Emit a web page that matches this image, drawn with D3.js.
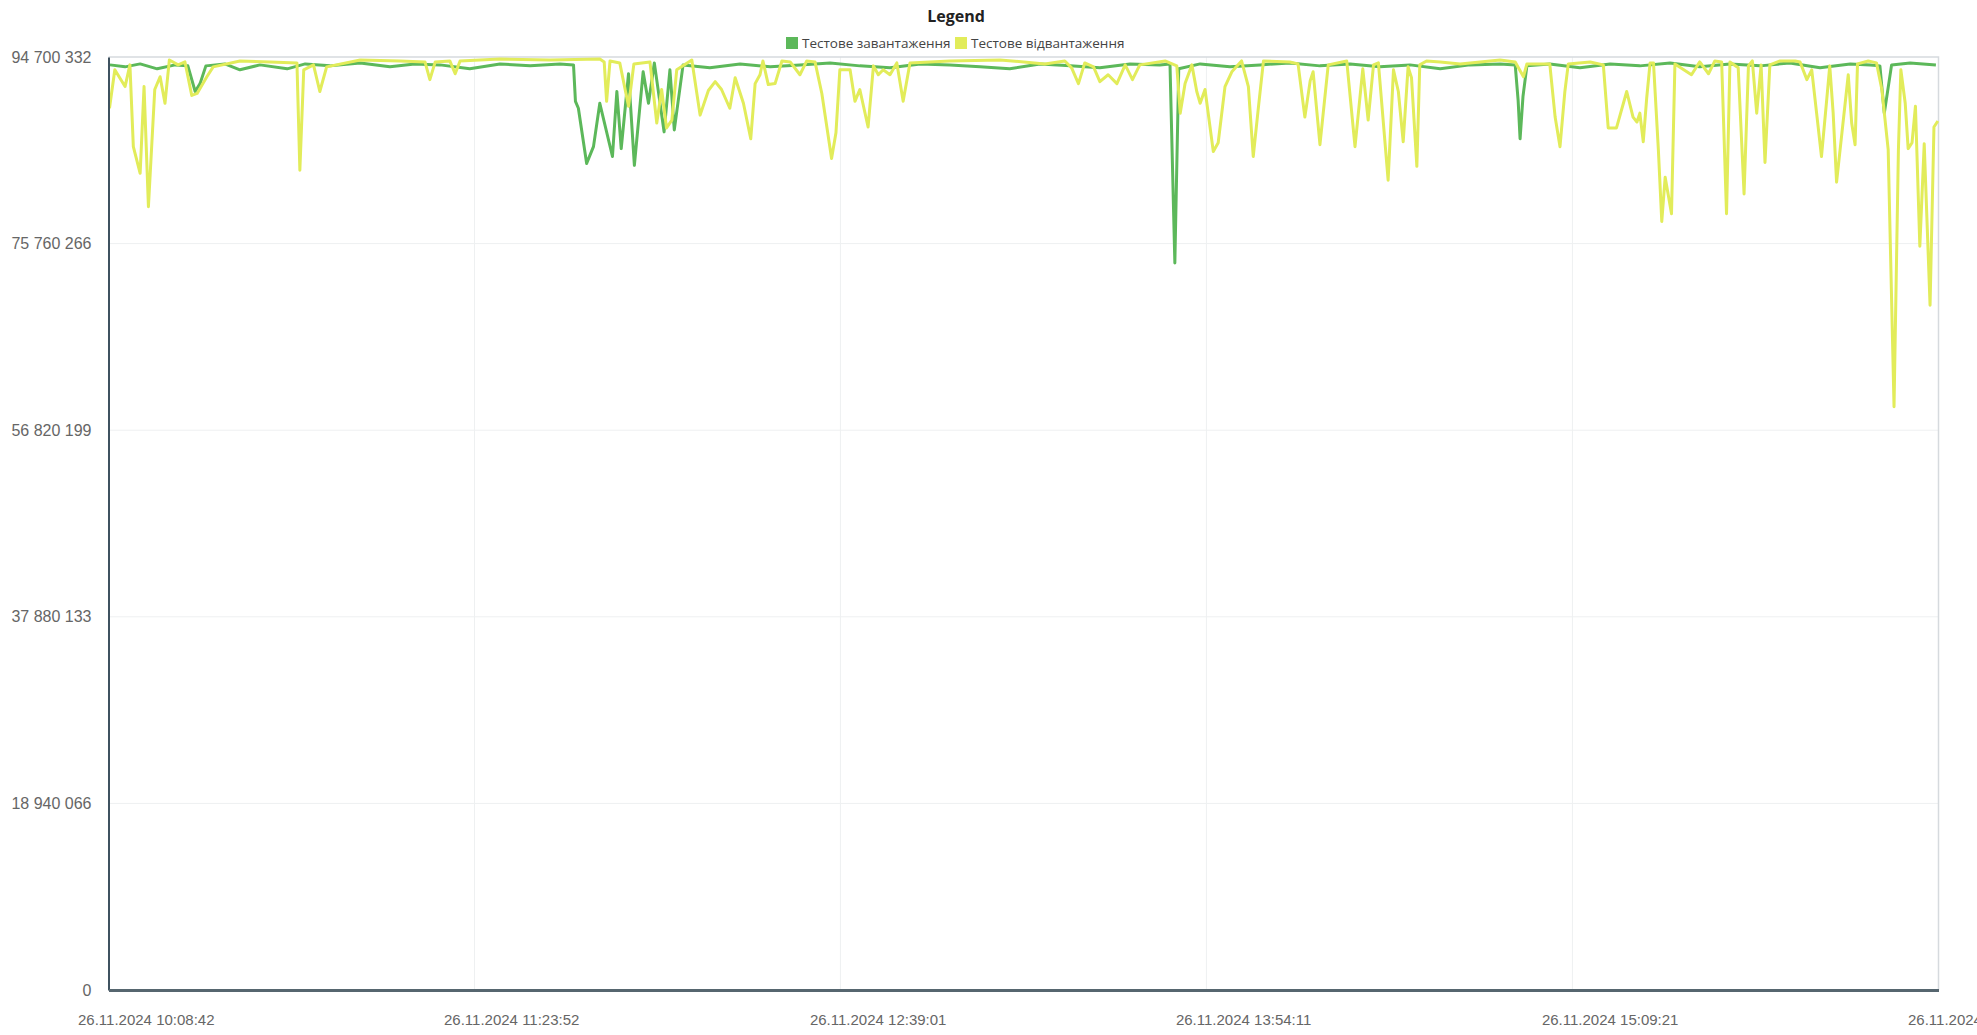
<!DOCTYPE html>
<html>
<head>
<meta charset="utf-8">
<script src="https://cdn.jsdelivr.net/npm/d3@7"></script>
<style>
  body { margin: 0; background: #fff; }
  svg { display: block; }
</style>
</head>
<body>
<svg width="1977" height="1035"></svg>
<script>
// time axis: first and last label, one tick every 75 min 10 s
const xTickLabels = ["26.11.2024 10:08:42", "26.11.2024 11:23:52", "26.11.2024 12:39:01",
    "26.11.2024 13:54:11", "26.11.2024 15:09:21", "26.11.2024 16:24:32"];
const yTickValues = [0, 18940066, 37880133, 56820199, 75760266, 94700332];

const seriesNames = ["Тестове завантаження", "Тестове відвантаження"];
const seriesColors = ["#5cb85a", "#e2ec5a"];

// minutes after 10:08:42, values in millions
const loadMin = [0.3, 3.4, 6.5, 10.0, 13.7, 16.3, 17.8, 18.8, 20.0, 23.9, 27.0, 31.1, 36.7, 40.4, 45.5, 51.7,
    57.8, 62.9, 68.1, 74.2, 80.4, 86.6, 92.7, 95.5, 95.9, 96.5, 98.2, 99.6, 100.9, 103.5, 104.4, 105.3,
    106.8, 108.0, 109.8, 110.9, 112.1, 114.1, 115.3, 116.2, 118.0, 123.5, 129.7, 135.9, 142.0, 148.2,
    154.3, 160.5, 166.7, 172.8, 179.0, 185.1, 191.3, 197.5, 203.6, 209.8, 215.9, 218.0, 219.0, 219.8,
    224.2, 230.3, 236.5, 242.6, 248.8, 255.0, 261.1, 267.3, 273.5, 279.6, 285.8, 288.9, 289.5, 289.9,
    290.5, 291.3, 296.0, 302.2, 308.4, 314.5, 320.7, 326.8, 333.0, 339.2, 345.3, 351.5, 357.7, 361.8,
    363.8, 364.7, 366.2, 370.0, 375.3];
const loadVal = [93.9, 93.7, 94.0, 93.5, 93.9, 93.8, 91.2, 92.0, 93.8, 94.0, 93.4, 93.9, 93.5, 94.0, 93.8, 94.1,
    93.7, 94.0, 93.9, 93.5, 94.0, 93.8, 94.0, 93.9, 90.2, 89.5, 83.9, 85.6, 90.0, 84.6, 91.2, 85.4,
    93.0, 83.7, 93.2, 90.0, 94.1, 87.1, 93.4, 87.3, 93.9, 93.6, 94.0, 93.7, 93.9, 94.1,
    93.8, 93.6, 94.0, 93.9, 93.7, 93.5, 94.0, 93.8, 93.6, 94.0, 93.9, 94.0, 73.8, 93.5,
    94.0, 93.7, 93.9, 94.1, 93.8, 94.0, 93.7, 93.9, 93.5, 93.9, 94.0, 93.9, 90.3, 86.4,
    90.7, 93.8, 94.0, 93.6, 94.0, 93.8, 94.1, 93.7, 94.0, 93.8, 94.1, 93.6, 94.0, 93.9,
    93.8, 89.0, 93.9, 94.1, 93.9];

const unloadMin = [0.2, 1.3, 3.4, 4.4, 5.1, 6.5, 7.3, 8.2, 9.5, 10.6, 11.6, 12.5, 14.3, 15.7, 17.1, 18.2,
    20.2, 21.5, 27.0, 33.2, 38.7, 39.3, 40.1, 42.1, 43.4, 44.8, 51.7, 59.9, 65.0, 66.0, 67.1, 70.1,
    71.2, 72.2, 80.4, 90.7, 100.9, 101.8, 102.3, 103.0, 105.0, 106.8, 107.9, 111.2, 112.6, 113.6,
    114.6, 115.7, 116.7, 119.8, 121.5, 123.2, 124.6, 125.9, 127.6, 128.7, 130.4, 131.9, 132.8, 133.8,
    134.4, 135.5, 136.9, 138.3, 140.0, 142.0, 143.4, 145.1, 146.5, 148.5, 149.4, 150.2, 152.3, 153.3,
    154.3, 156.0, 157.1, 158.1, 159.1, 160.5, 161.9, 163.2, 164.6, 172.8, 183.1, 192.3, 196.4, 197.8,
    199.2, 200.5, 202.3, 203.6, 205.3, 207.1, 208.8, 210.3, 211.8, 217.0, 219.4, 220.1, 221.1, 222.5,
    223.5, 224.2, 225.2, 226.9, 227.9, 229.3, 230.7, 232.7, 234.1, 235.1, 236.1, 237.2, 242.6, 244.3,
    245.7, 246.8, 247.4, 248.8, 250.5, 254.3, 256.0, 257.6, 258.7, 259.8, 260.8, 262.8, 263.9, 264.9,
    265.9, 266.9, 267.6, 268.7, 269.3, 270.7, 273.5, 277.6, 281.7, 285.8, 288.9, 290.6, 291.3, 296.0,
    297.1, 298.1, 299.1, 299.8, 304.3, 307.0, 308.0, 309.7, 311.8, 313.1, 313.9, 314.5, 315.2, 315.9,
    316.6, 317.3, 318.3, 319.0, 319.7, 320.3, 321.0, 321.7, 325.1, 326.8, 328.6, 329.9, 331.3, 332.3,
    333.0, 334.7, 335.9, 336.8, 337.6, 338.5, 339.4, 340.2, 341.2, 343.3, 346.4, 347.4, 348.8, 349.8,
    350.8, 351.8, 352.9, 353.5, 354.2, 354.9, 356.0, 357.3, 358.0, 358.7, 359.2, 361.4, 363.1, 364.2,
    365.5, 366.7, 367.6, 368.1, 369.0, 369.6, 370.4, 371.1, 372.0, 372.9, 374.1, 374.9, 375.7];
const unloadVal = [89.5, 93.4, 91.7, 93.9, 85.6, 82.9, 91.7, 79.5, 91.4, 92.7, 90.0, 94.4, 93.9, 94.2, 90.8, 91.0,
    92.7, 93.7, 94.3, 94.2, 94.1, 83.2, 93.4, 93.9, 91.2, 93.7, 94.4, 94.3, 94.2, 92.4, 94.2, 94.3,
    93.0, 94.3, 94.5, 94.4, 94.5, 94.2, 90.2, 94.3, 94.1, 89.7, 94.0, 94.2, 88.0, 91.4,
    87.5, 88.3, 93.4, 94.4, 88.8, 91.3, 92.2, 91.4, 89.5, 92.6, 90.0, 86.4, 92.0, 92.9,
    94.3, 91.9, 92.0, 94.3, 94.2, 92.9, 94.3, 94.2, 91.0, 84.4, 87.0, 93.4, 93.4, 90.2,
    91.4, 87.6, 93.8, 92.9, 93.4, 92.9, 94.1, 90.2, 94.1, 94.3, 94.4, 94.0, 94.3, 93.6,
    92.0, 94.1, 93.7, 92.2, 92.9, 92.0, 93.9, 92.4, 93.9, 94.3, 93.8, 89.0, 92.0, 93.9,
    91.2, 90.0, 91.4, 85.1, 86.0, 91.7, 93.2, 94.3, 91.7, 84.6, 89.3, 94.3, 94.2, 94.0,
    88.6, 92.3, 93.2, 85.8, 93.9, 94.3, 85.6, 93.5, 88.3, 93.9, 94.1, 82.2, 93.4, 91.2,
    86.1, 93.7, 92.6, 83.6, 93.9, 94.3, 94.2, 94.0, 94.2, 94.4, 94.2, 92.7, 94.0, 94.0,
    88.6, 85.6, 91.2, 94.0, 94.2, 93.9, 87.5, 87.5, 91.2, 88.6, 88.1, 89.0, 86.1, 90.5,
    94.1, 94.1, 85.3, 78.0, 82.5, 80.8, 78.8, 94.0, 92.9, 94.2, 93.0, 94.3, 94.2, 78.8,
    94.2, 93.6, 80.8, 93.8, 94.3, 89.0, 93.9, 84.0, 93.9, 94.3, 94.3, 94.2, 92.4, 93.4,
    89.0, 84.6, 90.5, 93.8, 89.0, 82.0, 87.0, 92.9, 88.0, 85.8, 94.0, 94.3, 94.1, 91.4,
    85.3, 59.2, 85.3, 93.4, 90.0, 85.4, 86.0, 89.7, 75.5, 85.9, 69.5, 87.6, 88.2];

const parseTick = d3.timeParse("%d.%m.%Y %H:%M:%S");
const xTicks = xTickLabels.map(parseTick);
const t0 = xTicks[0];
const toDate = m => new Date(t0.getTime() + m * 60000);

const series = [
    { name: seriesNames[0], color: seriesColors[0], points: loadMin.map((m, i) => ({ t: toDate(m), v: loadVal[i] * 1e6 })) },
    { name: seriesNames[1], color: seriesColors[1], points: unloadMin.map((m, i) => ({ t: toDate(m), v: unloadVal[i] * 1e6 })) }
];

const svg = d3.select("svg");
const plotLeft = 108.5, plotRight = 1938.5, plotTop = 57, plotBottom = 990;

const x = d3.scaleTime().domain([t0, xTicks[xTicks.length - 1]]).range([plotLeft, plotRight]);
const y = d3.scaleLinear().domain([0, yTickValues[yTickValues.length - 1]]).range([plotBottom, plotTop]);

const numFmt = d3.formatLocale({ decimal: ",", thousands: " ", grouping: [3], currency: ["", ""] }).format(",d");
const timeFmt = d3.timeFormat("%d.%m.%Y %H:%M:%S");

// grid
svg.append("g")
    .selectAll("line")
    .data(yTickValues.slice(1, -1))
    .enter().append("line")
    .attr("x1", plotLeft).attr("x2", plotRight)
    .attr("y1", d => y(d)).attr("y2", d => y(d))
    .attr("stroke", "#eef0f1").attr("stroke-width", 1);

svg.append("g")
    .selectAll("line")
    .data(xTicks.slice(1, -1))
    .enter().append("line")
    .attr("x1", d => x(d)).attr("x2", d => x(d))
    .attr("y1", plotTop).attr("y2", plotBottom)
    .attr("stroke", "#eef0f1").attr("stroke-width", 1);

// frame top / right
svg.append("path")
    .attr("d", `M${plotLeft},${plotTop}H${plotRight}V${plotBottom}`)
    .attr("fill", "none")
    .attr("stroke", "#d6dade")
    .attr("stroke-width", 1.5);

// lines
const line = d3.line()
    .x(d => x(d.t))
    .y(d => y(d.v));

svg.append("g")
    .selectAll("path")
    .data(series)
    .enter().append("path")
    .attr("d", d => line(d.points))
    .attr("fill", "none")
    .attr("stroke", d => d.color)
    .attr("stroke-width", 3)
    .attr("stroke-linejoin", "round");

// axes
const axisFont = "'Liberation Sans Narrow', 'Liberation Sans', sans-serif";

const yAxis = svg.append("g")
    .attr("transform", `translate(${plotLeft},0)`)
    .call(d3.axisLeft(y).tickValues(yTickValues).tickSize(0).tickPadding(17).tickFormat(numFmt));
yAxis.select(".domain").attr("stroke", "#3f5260").attr("stroke-width", 2);
yAxis.selectAll("text")
    .attr("font-family", axisFont)
    .attr("font-size", 16)
    .attr("fill", "#666");

const xAxis = svg.append("g")
    .attr("transform", `translate(0,${plotBottom})`)
    .call(d3.axisBottom(x).tickValues(xTicks).tickSize(0).tickPadding(24).tickFormat(timeFmt));
xAxis.select(".domain").attr("stroke", "#56666f").attr("stroke-width", 3);
xAxis.selectAll("text")
    .attr("text-anchor", "start")
    .attr("dx", -31)
    .attr("font-family", axisFont)
    .attr("font-size", 15)
    .attr("fill", "#666");

// legend
svg.append("text")
    .attr("x", 956).attr("y", 22)
    .attr("text-anchor", "middle")
    .attr("font-family", "'Open Sans', sans-serif")
    .attr("font-weight", "bold")
    .attr("font-size", 16)
    .attr("fill", "#222")
    .text("Legend");

const legendX = [786, 955];
const item = svg.append("g")
    .selectAll("g")
    .data(series)
    .enter().append("g")
    .attr("transform", (d, i) => `translate(${legendX[i]},37)`);
item.append("rect")
    .attr("width", 12).attr("height", 12)
    .attr("fill", d => d.color);
item.append("text")
    .attr("x", 16).attr("y", 10.5)
    .attr("font-family", "'Open Sans', sans-serif")
    .attr("font-size", 13.5)
    .attr("fill", "#444")
    .text(d => d.name);
</script>
</body>
</html>
